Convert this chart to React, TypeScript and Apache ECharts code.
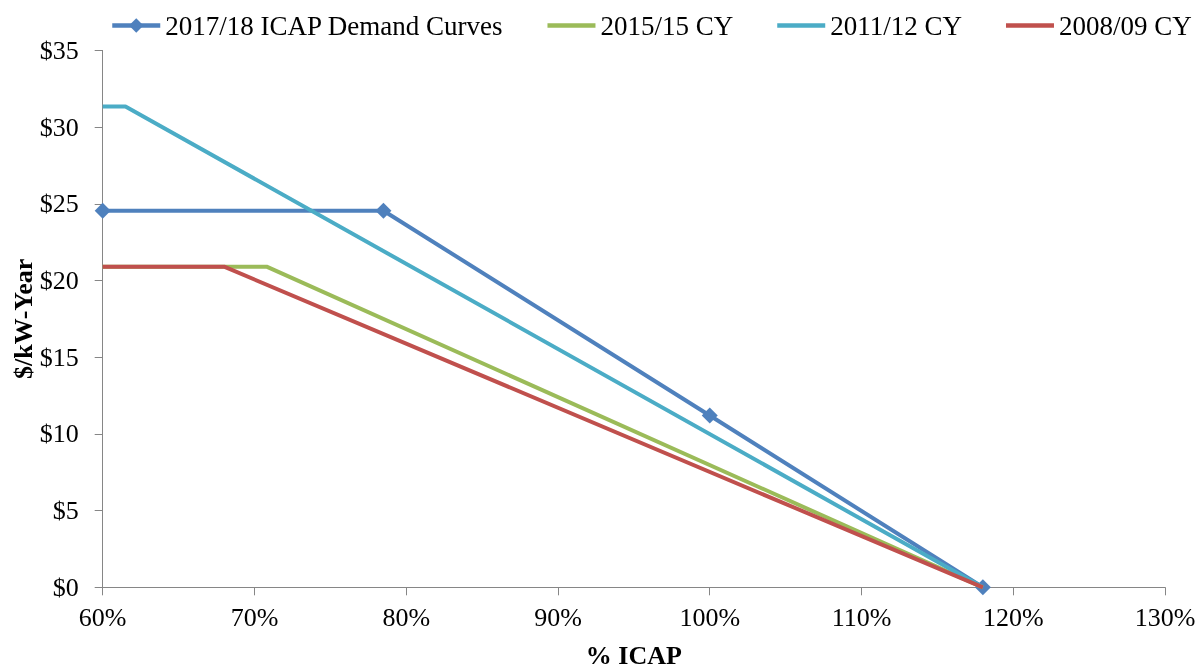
import React, { useEffect, useRef } from "react";
import * as echarts from "echarts";

const seriesNames = ["2017/18 ICAP Demand Curves", "2015/15 CY", "2011/12 CY", "2008/09 CY"];
const demand2017: [number, number][] = [[60, 24.55], [78.5, 24.55], [100, 11.2], [118, 0]];
const cy2015: [number, number][] = [[60, 20.9], [70.8, 20.9], [118, 0]];
const cy2011: [number, number][] = [[60, 31.35], [61.5, 31.35], [118, 0]];
const cy2008: [number, number][] = [[60, 20.9], [68, 20.9], [118, 0]];
const colors = ["#4F81BD", "#9BBB59", "#4BACC6", "#C0504D"];

const FONT = "'Liberation Serif', 'Times New Roman', serif";
const LINE_ICON = "path://M0,0H48V4.5H0Z";

export default function App() {
  const ref = useRef<HTMLDivElement>(null);
  useEffect(() => {
    if (!ref.current) return;
    const chart = echarts.init(ref.current, null, { renderer: "svg" });
    const datasets = [demand2017, cy2015, cy2011, cy2008];
    chart.setOption({
      animation: false,
      textStyle: { fontFamily: FONT, color: "#000" },
      legend: {
        left: 105,
        top: 7,
        itemWidth: 48,
        itemHeight: 18,
        itemGap: 44,
        symbolKeepAspect: true,
        textStyle: { fontFamily: FONT, fontSize: 27, color: "#000" },
        data: seriesNames.map((name, i) =>
          i === 0 ? { name, lineStyle: { width: 4.5, color: colors[0] } } : { name, icon: LINE_ICON }
        ),
      },
      grid: { left: 102.7, right: 39, top: 50.4, bottom: 83.7, containLabel: false, outerBoundsMode: "none" },
      xAxis: {
        type: "value",
        min: 60,
        max: 130,
        interval: 10,
        name: "% ICAP",
        nameLocation: "middle",
        nameGap: 55,
        nameMoveOverlap: false,
        nameTextStyle: { fontFamily: FONT, fontSize: 26, fontWeight: "bold", color: "#000" },
        axisLine: { show: true, lineStyle: { color: "#868686", width: 1 } },
        axisTick: { show: true, length: 8, lineStyle: { color: "#868686" } },
        splitLine: { show: false },
        axisLabel: { formatter: (v: number) => v + "%", fontFamily: FONT, fontSize: 26, color: "#000", margin: 17 },
      },
      yAxis: {
        type: "value",
        min: 0,
        max: 35,
        interval: 5,
        name: "$/kW-Year",
        nameLocation: "middle",
        nameGap: 66,
        nameRotate: 90,
        nameMoveOverlap: false,
        nameTextStyle: { fontFamily: FONT, fontSize: 26, fontWeight: "bold", color: "#000" },
        axisLine: { show: true, lineStyle: { color: "#868686", width: 1 } },
        axisTick: { show: true, length: 8, lineStyle: { color: "#868686" } },
        splitLine: { show: false },
        axisLabel: { formatter: (v: number) => "$" + v, fontFamily: FONT, fontSize: 26, color: "#000", margin: 24 },
      },
      series: seriesNames.map((name, i) => ({
        name,
        type: "line",
        data: datasets[i],
        symbol: i === 0 ? "diamond" : "none",
        symbolSize: 16,
        showSymbol: i === 0,
        lineStyle: { width: 4, color: colors[i] },
        itemStyle: { color: colors[i] },
        z: 2 + i,
      })),
    });
    return () => chart.dispose();
  }, []);
  return <div ref={ref} style={{ position: "fixed", left: 0, top: 0, width: 1204, height: 671 }} />;
}
